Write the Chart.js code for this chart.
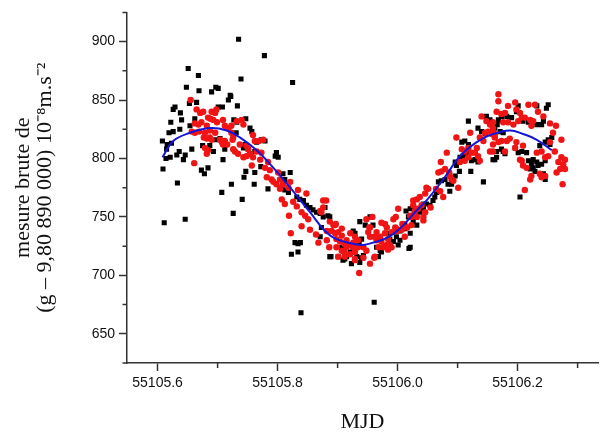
<!DOCTYPE html>
<html>
<head>
<meta charset="utf-8">
<script src="https://cdn.jsdelivr.net/npm/chart.js@4"></script>
<style>
  html, body { margin: 0; padding: 0; background: #fff; }
</style>
</head>
<body>
<canvas id="gChart" width="602" height="435"></canvas>
<script>
// points: [MJD, g]
const blackPoints = [
  [55105.651,877],[55105.668,871],[55105.648,861],[55105.669,858],[55105.697,861],[55105.701,860],[55105.690,857],
  [55105.721,854],[55105.718,850],[55105.629,844],[55105.626,842],[55105.653,847],[55105.665,848],[55105.638,839],
  [55105.640,833],[55105.662,834],[55105.622,831],[55105.701,844],[55105.708,844],[55105.637,825],[55105.626,823],
  [55105.619,822],[55105.654,828],[55105.608,815],[55105.616,812],[55105.623,813],[55105.615,808],[55105.614,800],
  [55105.621,801],[55105.632,803],[55105.636,806],[55105.643,799],[55105.646,803],[55105.657,808],[55105.609,791],
  [55105.673,790],[55105.678,787],[55105.684,792],[55105.633,779],[55105.707,771],[55105.723,778],[55105.726,753],
  [55105.646,748],[55105.611,745],[55105.675,811],[55105.687,811],[55105.693,806],[55105.709,799],[55105.698,816],
  [55105.704,817],[55105.712,808],[55105.735,902],[55105.778,888],[55105.739,868],[55105.825,865],[55105.722,853],
  [55105.733,845],[55105.727,833],[55105.732,831],[55105.747,834],[55105.754,826],[55105.757,823],[55105.731,822],
  [55105.779,815],[55105.773,816],[55105.765,814],[55105.746,812],[55105.743,809],[55105.751,808],[55105.762,806],
  [55105.798,805],[55105.796,802],[55105.801,801],[55105.747,789],[55105.744,784],[55105.762,788],[55105.772,793],
  [55105.761,778],[55105.784,774],[55105.809,787],[55105.812,782],[55105.821,788],[55105.807,775],[55105.812,773],
  [55105.818,771],[55105.832,767],[55105.837,765],[55105.843,764],[55105.848,760],[55105.854,758],[55105.859,756],
  [55105.865,754],[55105.871,753],[55105.741,765],[55105.829,728],[55105.834,727],[55105.838,728],[55105.823,718],
  [55105.834,720],[55105.839,668],[55105.871,733],[55105.876,750],[55105.873,741],[55105.879,758],[55105.884,751],
  [55105.887,750],[55105.889,716],[55105.901,716],[55105.912,714],[55105.915,716],[55105.907,724],[55105.911,721],
  [55105.921,720],[55105.926,721],[55105.926,738],[55105.929,736],[55105.936,729],[55105.940,731],[55105.932,716],
  [55105.940,715],[55105.943,717],[55105.937,711],[55105.954,750],[55105.959,743],[55105.958,733],[55105.965,724],
  [55105.971,721],[55105.976,724],[55105.968,716],[55105.984,736],[55105.987,731],[55105.993,729],[55105.998,733],
  [55106.004,730],[55106.001,726],[55106.004,738],[55106.012,744],[55106.018,750],[55106.014,755],[55106.021,757],
  [55106.025,758],[55106.019,723],[55105.961,677],[55106.021,736],[55106.032,743],[55106.026,746],[55106.048,761],
  [55106.054,760],[55106.059,764],[55106.062,767],[55106.065,771],[55106.068,780],[55106.073,781],[55106.079,782],
  [55106.084,778],[55106.087,772],[55106.090,778],[55106.093,782],[55106.096,785],[55106.096,797],[55106.098,794],
  [55106.103,789],[55106.104,801],[55106.109,802],[55106.115,804],[55106.121,805],[55106.107,814],[55106.112,815],
  [55106.118,812],[55106.118,832],[55106.122,789],[55106.123,798],[55106.129,799],[55106.134,797],[55106.134,826],
  [55106.140,823],[55106.146,821],[55106.148,836],[55106.154,833],[55106.143,780],[55106.162,799],[55106.165,806],
  [55106.168,833],[55106.166,829],[55106.037,754],[55106.043,757],[55106.201,845],[55106.198,840],[55106.232,845],
  [55106.251,846],[55106.248,843],[55106.173,836],[55106.182,836],[55106.190,835],[55106.209,832],[55106.218,831],
  [55106.232,829],[55106.240,829],[55106.243,832],[55106.162,826],[55106.171,823],[55106.176,822],[55106.159,799],
  [55106.173,808],[55106.179,804],[55106.196,809],[55106.201,805],[55106.207,806],[55106.215,805],[55106.218,798],
  [55106.226,799],[55106.223,795],[55106.232,797],[55106.234,794],[55106.240,795],[55106.246,798],[55106.221,791],
  [55106.229,789],[55106.246,782],[55106.243,787],[55106.204,767],[55106.237,811],[55106.246,814],[55106.254,812],
  [55106.251,816],[55106.257,818],[55106.165,801],[55106.176,806],[55106.226,792],[55106.021,724],[55105.887,716],
  [55105.909,713],[55105.923,710],[55105.937,746],[55105.946,743],[55105.973,720],[55106.012,740],[55106.034,755],
  [55106.043,761]
];

const redPoints = [
  [55105.655,850],[55105.665,842],[55105.671,839],[55105.676,840],[55105.690,840],[55105.696,839],[55105.698,842],
  [55105.684,835],[55105.688,834],[55105.693,833],[55105.699,831],[55105.662,830],[55105.668,829],[55105.673,831],
  [55105.682,828],[55105.657,823],[55105.662,822],[55105.669,823],[55105.679,822],[55105.687,824],[55105.696,822],
  [55105.709,833],[55105.712,828],[55105.718,826],[55105.723,828],[55105.677,818],[55105.687,818],[55105.690,816],
  [55105.704,816],[55105.707,814],[55105.712,815],[55105.679,809],[55105.684,807],[55105.682,804],[55105.709,812],
  [55105.716,812],[55105.726,808],[55105.661,796],[55105.726,818],[55105.732,832],[55105.740,833],[55105.743,829],
  [55105.725,816],[55105.723,822],[55105.737,812],[55105.729,806],[55105.734,804],[55105.743,801],[55105.748,802],
  [55105.754,804],[55105.759,801],[55105.751,808],[55105.759,820],[55105.762,815],[55105.769,815],[55105.776,816],
  [55105.765,806],[55105.773,805],[55105.771,799],[55105.757,794],[55105.779,792],[55105.784,797],[55105.787,790],
  [55105.782,784],[55105.790,782],[55105.793,780],[55105.801,788],[55105.804,782],[55105.809,778],[55105.798,778],
  [55105.804,774],[55105.821,780],[55105.818,775],[55105.807,765],[55105.812,761],[55105.834,773],[55105.848,770],
  [55105.826,763],[55105.832,759],[55105.840,754],[55105.846,751],[55105.851,748],[55105.819,751],[55105.840,742],
  [55105.854,739],[55105.864,735],[55105.822,736],[55105.868,728],[55105.871,755],[55105.876,764],[55105.881,764],
  [55105.873,754],[55105.887,746],[55105.893,743],[55105.897,744],[55105.882,738],[55105.890,738],[55105.896,736],
  [55105.901,737],[55105.907,740],[55105.882,730],[55105.886,724],[55105.898,731],[55105.904,729],[55105.911,727],
  [55105.915,724],[55105.921,736],[55105.929,733],[55105.934,730],[55105.918,726],[55105.926,724],[55105.934,724],
  [55105.943,724],[55105.912,719],[55105.921,718],[55105.929,720],[55105.929,713],[55105.943,715],[55105.936,702],
  [55105.961,715],[55105.948,748],[55105.958,750],[55105.953,741],[55105.951,737],[55105.954,733],[55105.962,733],
  [55105.965,730],[55105.973,729],[55105.973,745],[55105.979,744],[55105.982,741],[55105.968,724],[55105.976,724],
  [55105.982,726],[55105.984,722],[55105.990,724],[55105.993,748],[55105.997,750],[55106.001,757],[55105.990,737],
  [55105.996,741],[55105.999,738],[55106.007,739],[55106.012,733],[55106.008,744],[55106.016,741],[55106.023,743],
  [55106.021,751],[55106.026,760],[55106.029,755],[55106.026,764],[55106.023,750],[55106.034,757],[55106.040,760],
  [55106.032,765],[55106.037,767],[55106.046,770],[55106.051,774],[55106.043,750],[55106.055,758],[55106.046,754],
  [55106.068,788],[55106.073,789],[55106.079,791],[55106.076,767],[55106.071,772],[55106.064,774],[55106.087,785],
  [55106.090,782],[55106.093,781],[55106.082,805],[55106.072,797],[55106.086,788],[55106.101,775],[55106.098,818],
  [55106.107,808],[55106.112,806],[55106.118,809],[55106.104,797],[55106.112,798],[55106.118,801],[55106.121,822],
  [55106.123,805],[55106.129,805],[55106.134,802],[55106.137,798],[55106.132,809],[55106.137,818],[55106.143,815],
  [55106.140,836],[55106.148,832],[55106.154,829],[55106.159,826],[55106.146,822],[55106.151,823],[55106.157,821],
  [55106.162,818],[55106.154,806],[55106.159,812],[55106.168,855],[55106.184,845],[55106.196,848],[55106.198,842],
  [55106.218,846],[55106.229,846],[55106.234,840],[55106.165,840],[55106.173,838],[55106.179,839],[55106.204,839],
  [55106.207,835],[55106.201,832],[55106.212,835],[55106.221,833],[55106.226,832],[55106.223,828],[55106.176,831],
  [55106.184,831],[55106.193,829],[55106.243,836],[55106.254,830],[55106.264,828],[55106.259,822],[55106.273,816],
  [55106.254,814],[55106.168,814],[55106.173,815],[55106.182,815],[55106.187,817],[55106.179,806],[55106.198,814],
  [55106.209,811],[55106.204,799],[55106.209,794],[55106.215,792],[55106.262,806],[55106.251,802],[55106.232,805],
  [55106.240,806],[55106.273,801],[55106.279,799],[55106.276,795],[55106.271,791],[55106.279,791],[55106.265,788],
  [55106.268,797],[55106.237,787],[55106.240,784],[55106.246,785],[55106.221,782],[55106.212,773],[55106.275,778],
  [55105.898,724],[55105.907,721],[55105.901,716],[55105.912,716],[55105.929,714],[55105.926,728],[55105.932,730],
  [55105.948,721],[55105.962,716],[55105.954,710],[55105.954,741],[55105.965,737],[55105.971,733],[55105.979,736],
  [55105.984,731],[55105.987,726],[55105.998,740],[55106.009,741],[55106.032,750],[55106.043,747],[55105.907,734],
  [55105.915,730],[55105.896,743],[55105.682,817],[55105.748,811],[55105.876,758],[55106.028,753],[55106.048,775],
  [55106.159,831],[55106.168,849],[55106.162,821],[55106.159,806],[55106.196,809],[55106.207,798],[55106.246,801],
  [55106.223,785]
];

// blue fit curve
const fitPoints = [
  [55105.608,801],[55105.626,815],[55105.654,822],[55105.687,826],[55105.715,824],[55105.737,818],[55105.765,807],
  [55105.793,792],[55105.821,775],[55105.854,754],[55105.879,738],[55105.898,731],[55105.926,727],[55105.943,726],
  [55105.959,728],[55105.982,732],[55106.004,740],[55106.029,754],[55106.048,764],[55106.076,782],[55106.104,802],
  [55106.132,814],[55106.154,820],[55106.187,824],[55106.209,821],[55106.232,816],[55106.257,807]
];

const xTicks = [55105.6, 55105.8, 55106.0, 55106.2];
const xMinor = [55105.7, 55105.9, 55106.1, 55106.3];
const yTicks = [650, 700, 750, 800, 850, 900];
const yMinor = [625, 675, 725, 775, 825, 875, 925];

const axisColor = "#333";
const tickFont = { family: "'Liberation Sans', Arial, sans-serif", size: 14 };
const titleFont = { family: "'Liberation Serif', 'Times New Roman', serif", size: 22, lineHeight: 1.0 };

const toXY = arr => arr.map(p => ({ x: p[0], y: p[1] }));

// small ticks between the labelled ones
const minorTicks = {
  id: "minorTicks",
  afterDraw(chart) {
    const { ctx, chartArea, scales } = chart;
    ctx.save();
    ctx.strokeStyle = axisColor;
    ctx.lineWidth = 1.5;
    ctx.beginPath();
    yMinor.forEach(v => {
      const p = scales.y.getPixelForValue(v);
      ctx.moveTo(chartArea.left, p);
      ctx.lineTo(chartArea.left - 4.5, p);
    });
    xMinor.forEach(v => {
      const p = scales.x.getPixelForValue(v);
      ctx.moveTo(p, chartArea.bottom);
      ctx.lineTo(p, chartArea.bottom + 5);
    });
    ctx.stroke();
    ctx.restore();
  }
};

const ctx = document.getElementById("gChart").getContext("2d");
new Chart(ctx, {
  type: "scatter",
  data: {
    datasets: [
      {
        label: "fit",
        data: toXY(fitPoints),
        showLine: true,
        tension: 0.4,
        borderColor: "#1515d8",
        borderWidth: 2,
        pointRadius: 0,
        order: 0
      },
      {
        label: "red",
        data: toXY(redPoints),
        pointStyle: "circle",
        pointRadius: 3.2,
        borderWidth: 0,
        backgroundColor: "#f01414",
        order: 1
      },
      {
        label: "black",
        data: toXY(blackPoints),
        pointStyle: "rect",
        pointRadius: 3.6,
        borderWidth: 0,
        backgroundColor: "#000",
        order: 2
      }
    ]
  },
  options: {
    responsive: false,
    animation: false,
    layout: { padding: { top: 10, right: 4, left: 0, bottom: 0 } },
    plugins: { legend: { display: false }, tooltip: { enabled: false } },
    scales: {
      x: {
        type: "linear",
        min: 55105.549,
        max: 55106.334,
        afterBuildTicks: s => { s.ticks = xTicks.map(v => ({ value: v })); },
        afterFit: s => { s.height = 72; },
        ticks: {
          callback: v => v.toFixed(1),
          font: tickFont,
          color: "#111",
          padding: 4,
          maxRotation: 0,
          autoSkip: false
        },
        grid: { drawOnChartArea: false, drawTicks: true, tickLength: 8, tickWidth: 1.5, tickColor: axisColor },
        border: { display: true, color: axisColor, width: 1.5 },
        title: { display: true, text: "MJD", font: titleFont, color: "#111", padding: { top: 0, bottom: 2 } }
      },
      y: {
        min: 625,
        max: 925,
        afterBuildTicks: s => { s.ticks = yTicks.map(v => ({ value: v })); },
        afterFit: s => { s.width = 127; },
        ticks: { font: tickFont, color: "#111", padding: 4 },
        grid: { drawOnChartArea: false, drawTicks: true, tickLength: 8, tickWidth: 1.5, tickColor: axisColor },
        border: { display: true, color: axisColor, width: 1.5 },
        title: {
          display: true,
          text: ["mesure brute de", "(g – 9,80 890 000) 10⁻⁸m.s⁻²"],
          font: titleFont,
          color: "#111",
          padding: { top: 12, bottom: 0 }
        }
      }
    }
  },
  plugins: [minorTicks]
});
</script>
</body>
</html>
